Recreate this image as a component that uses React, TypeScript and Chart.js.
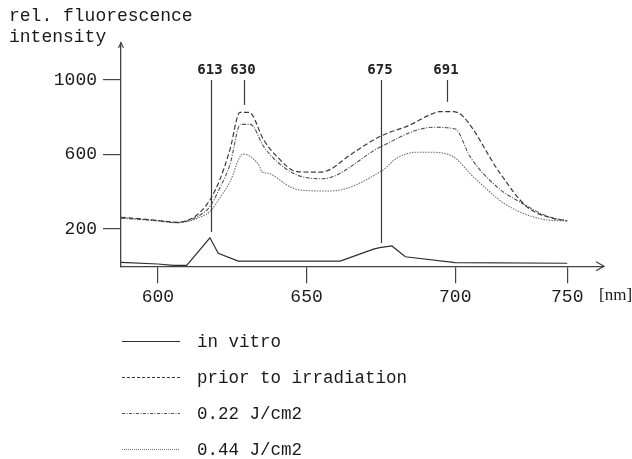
import React, { useEffect, useRef } from 'react';
import { Chart, registerables, LinearScale } from 'chart.js';

// ---------------- data ----------------
const X_TICKS = [600, 650, 700, 750];
const Y_TICKS = [200, 600, 1000];
const X_MIN = 587.6;
const X_MAX = 766.4;
const Y_MIN = 0;
const Y_MAX = 1200;
// the printed axis compresses the 700–750 nm interval
const AXIS_BREAK_AT = 700;
const AXIS_BREAK_FACTOR = 0.7532;

const seriesLabels = ['in vitro', 'prior to irradiation', '0.22 J/cm2', '0.44 J/cm2'];

const inVitroX = [587.6, 600, 605.1, 609.7, 617.5, 620.3, 627, 661.3, 672.5, 674.6, 678.7, 683.2, 700, 750];
const inVitroY = [21, 12, 5, 5, 153, 70, 28, 28, 92, 100, 109, 51, 19, 16];

const priorX = [587.6, 600, 606.3, 610.8, 614.2, 617.5, 620.8, 624.2, 627.6, 630.7, 635.6, 640.1, 646.8, 654.5, 658, 664.6, 675, 684.7, 691.3, 694.8, 699.3, 703.6, 719.9, 731.9, 743.7, 750];
const priorY = [263, 246, 236, 252, 290, 356, 463, 624, 826, 826, 678, 588, 508, 505, 520, 597, 699, 758, 812, 830, 830, 803, 501, 320, 257, 245];

const dose022X = [587.6, 600, 606.3, 610.8, 614.2, 617.5, 620.8, 624.2, 627.8, 631.1, 635.6, 640.1, 646.8, 654.5, 658, 675, 692.6, 700, 706.6, 718.5, 730.4, 740.8, 750];
const dose022Y = [258, 244, 233, 248, 275, 320, 420, 544, 762, 762, 642, 561, 490, 470, 476, 642, 746, 737, 588, 427, 334, 270, 243];

const dose044X = [587.6, 600, 606.3, 610.8, 614.2, 617.5, 620.8, 624.2, 628.6, 633.7, 634.3, 634.9, 637.1, 644.4, 647.7, 657.8, 675.7, 680.2, 686.9, 691.4, 699.3, 708, 722.9, 739.3, 750];
const dose044Y = [262, 244, 236, 243, 264, 293, 366, 452, 603, 549, 531, 508, 499, 427, 409, 404, 517, 579, 612, 612, 588, 481, 329, 252, 243];

const peakLabels = ['613', '630', '675', '691'];
const peakX = [617.8, 629.0, 675.0, 697.3];
const peakLineFrom = [184, 866, 125, 883];
const peakLineTo = 1000;

const axisTitleLines = ['rel. fluorescence', 'intensity'];
const xUnitLabel = '[nm]';

// ---------------- styling ----------------
const INK = '#1c1c1c';
const MONO = "'Liberation Mono', 'Courier New', monospace";
const SANS_MONO = "'DejaVu Sans Mono', monospace";

const seriesStyles = [
  { color: '#2e2e2e', dash: [] as number[], width: 1.2 },
  { color: '#3a3a3a', dash: [5, 2.5], width: 1.2 },
  { color: '#505050', dash: [4, 1.5, 1, 1.5], width: 1.1 },
  { color: '#707070', dash: [1.5, 1.2], width: 1.1 },
];
const legendDashes = [[], [3, 2], [3, 1.5, 1, 1.5], [1, 1]];

// ---------------- custom scale: linear with compressed tail ----------------
class BrokenLinearScale extends LinearScale {
  static id = 'brokenLinear';
  static defaults = LinearScale.defaults;
  warpValue(v: number) {
    return v <= AXIS_BREAK_AT ? v : AXIS_BREAK_AT + (v - AXIS_BREAK_AT) * AXIS_BREAK_FACTOR;
  }
  unwarpValue(w: number) {
    return w <= AXIS_BREAK_AT ? w : AXIS_BREAK_AT + (w - AXIS_BREAK_AT) / AXIS_BREAK_FACTOR;
  }
  getPixelForValue(value: any) {
    if (value === null || value === undefined || Number.isNaN(value)) return NaN;
    const a = this.warpValue((this as any).min);
    const b = this.warpValue((this as any).max);
    return this.getPixelForDecimal((this.warpValue(value) - a) / (b - a));
  }
  getValueForPixel(pixel: number) {
    const a = this.warpValue((this as any).min);
    const b = this.warpValue((this as any).max);
    return this.unwarpValue(a + this.getDecimalForPixel(pixel) * (b - a));
  }
}

Chart.register(...registerables, BrokenLinearScale as any);

const seriesX = [inVitroX, priorX, dose022X, dose044X];
const seriesY = [inVitroY, priorY, dose022Y, dose044Y];

const decorPlugin = {
  id: 'decor',
  afterDraw(chart: any) {
    const { ctx, chartArea } = chart;
    const xs = chart.scales.x;
    const ys = chart.scales.y;
    ctx.save();

    // axis arrows
    ctx.strokeStyle = '#444';
    ctx.lineWidth = 1.2;
    ctx.beginPath();
    ctx.moveTo(chartArea.right - 8, chartArea.bottom - 4.5);
    ctx.lineTo(chartArea.right, chartArea.bottom);
    ctx.lineTo(chartArea.right - 8, chartArea.bottom + 4.5);
    ctx.stroke();
    ctx.beginPath();
    ctx.moveTo(chartArea.left - 2.5, chartArea.top + 5);
    ctx.lineTo(chartArea.left, chartArea.top);
    ctx.lineTo(chartArea.left + 2.5, chartArea.top + 5);
    ctx.stroke();

    // axis title (top-left)
    ctx.fillStyle = '#1a1a1a';
    ctx.font = `18px ${MONO}`;
    ctx.textAlign = 'left';
    ctx.textBaseline = 'alphabetic';
    axisTitleLines.forEach((t, i) => ctx.fillText(t, 9, 21 + i * 21));

    // unit label
    ctx.font = "17px 'Liberation Serif', 'Times New Roman', serif";
    ctx.textBaseline = 'middle';
    ctx.fillText(xUnitLabel, chartArea.right - 5, chartArea.bottom + 29);

    // peak markers
    ctx.strokeStyle = '#3a3a3a';
    ctx.lineWidth = 1.2;
    ctx.font = `bold 14px ${SANS_MONO}`;
    ctx.textAlign = 'center';
    ctx.textBaseline = 'middle';
    peakLabels.forEach((lab, i) => {
      const px = Math.round(xs.getPixelForValue(peakX[i])) + 0.5;
      const yTop = ys.getPixelForValue(peakLineTo);
      const yBot = ys.getPixelForValue(peakLineFrom[i]);
      ctx.beginPath();
      ctx.moveTo(px, yTop);
      ctx.lineTo(px, yBot);
      ctx.stroke();
      ctx.fillStyle = '#222';
      ctx.fillText(lab, px - 1.5, yTop - 9.5);
    });

    // legend (vertical list below the plot)
    const legendTop = 341;
    const step = 36;
    chart.data.datasets.forEach((ds: any, i: number) => {
      const y = legendTop + i * step + 0.5;
      ctx.strokeStyle = ds.borderColor;
      ctx.lineWidth = ds.borderWidth;
      ctx.setLineDash(legendDashes[i]);
      ctx.beginPath();
      ctx.moveTo(chartArea.left + 1, y);
      ctx.lineTo(chartArea.left + 59, y);
      ctx.stroke();
      ctx.setLineDash([]);
      ctx.fillStyle = '#1a1a1a';
      ctx.font = `17.5px ${MONO}`;
      ctx.textAlign = 'left';
      ctx.textBaseline = 'alphabetic';
      ctx.fillText(ds.label, 197, y + 5);
    });

    ctx.restore();
  },
};

export default function App() {
  const ref = useRef<HTMLCanvasElement>(null);

  useEffect(() => {
    if (!ref.current) return;
    const datasets = seriesLabels.map((label, i) => ({
      label,
      data: seriesX[i].map((x, j) => ({ x, y: seriesY[i][j] })),
      borderColor: seriesStyles[i].color,
      borderDash: seriesStyles[i].dash,
      borderWidth: seriesStyles[i].width,
      pointRadius: 0,
      fill: false,
      tension: 0,
      cubicInterpolationMode: i === 0 ? 'default' : 'monotone',
    }));

    const chart = new Chart(ref.current, {
      type: 'line',
      data: { datasets } as any,
      options: {
        responsive: false,
        animation: false,
        devicePixelRatio: 1,
        events: [],
        layout: { padding: { left: 0, top: 42.75, right: 28, bottom: 152.75 } },
        plugins: { legend: { display: false }, tooltip: { enabled: false }, title: { display: false } },
        scales: {
          x: {
            type: 'brokenLinear' as any,
            min: X_MIN,
            max: X_MAX,
            afterBuildTicks: (s: any) => {
              s.ticks = X_TICKS.map((v) => ({ value: v }));
            },
            afterFit: (s: any) => {
              s.height = 40;
            },
            border: { display: true, color: '#444', width: 1.3 },
            grid: { drawOnChartArea: false, drawTicks: true, tickLength: 17, color: '#444', lineWidth: 1.2 },
            ticks: {
              color: INK,
              font: { family: MONO, size: 18 },
              padding: 3,
              maxRotation: 0,
              autoSkip: false,
              callback: (v: any) => String(v),
            },
          } as any,
          y: {
            type: 'linear',
            min: Y_MIN,
            max: Y_MAX,
            afterBuildTicks: (s: any) => {
              s.ticks = Y_TICKS.map((v) => ({ value: v }));
            },
            afterFit: (s: any) => {
              s.width = 121;
            },
            border: { display: true, color: '#444', width: 1.3 },
            grid: { drawOnChartArea: false, drawTicks: true, tickLength: 18, color: '#444', lineWidth: 1.2 },
            ticks: {
              color: INK,
              font: { family: MONO, size: 18 },
              padding: 6,
              autoSkip: false,
              callback: (v: any) => String(v),
            },
          },
        },
      },
      plugins: [decorPlugin],
    } as any);
    return () => chart.destroy();
  }, []);

  return (
    <div style={{ position: 'fixed', left: 0, top: 0, width: 632, height: 459, background: '#fff' }}>
      <canvas ref={ref} width={632} height={459} style={{ display: 'block', width: 632, height: 459 }} />
    </div>
  );
}
